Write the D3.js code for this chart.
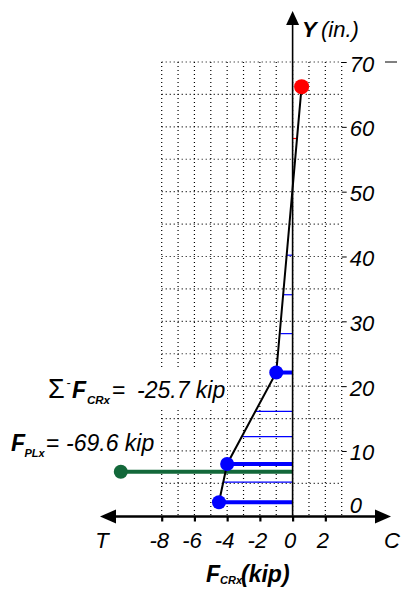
<!DOCTYPE html>
<html><head><meta charset="utf-8">
<script src="https://cdn.jsdelivr.net/npm/d3@7"></script>
<style>
html,body{margin:0;padding:0;background:#fff;}
svg{display:block;font-family:"Liberation Sans",Arial,Helvetica,sans-serif;}
</style></head>
<body>
<svg id="c" width="405" height="594"></svg>
<script>
// ---- data ----
const xTicks = [-8, -6, -4, -2, 0, 2];
const yTicks = [0, 10, 20, 30, 40, 50, 60, 70];
const gridX = [-8, -7, -6, -5, -4, -3, -2, -1, 0, 1, 2, 3];
const gridY = [5, 10, 15, 20, 25, 30, 35, 40, 45, 50, 55, 60, 65, 70];
// force profile (kip) vs height (in.)
const profileX = [0.55, -1.0, -4.0, -4.5];
const profileY = [66.2, 22.1, 8.0, 2.1];
// reinforcement row forces (thick bars + dots)
const rebarX = [-1.0, -4.0, -4.5];
const rebarY = [22.1, 8.0, 2.1];
// thin strip lines
const stripX = [0.3, -0.35, -0.55, -0.75, -2.3, -3.05, -4.2];
const stripY = [58.2, 40.2, 34.1, 28.1, 16.1, 12.2, 5.2];
// top point
const topX = [0.55];
const topY = [66.2];
// plate force
const plateX = [-10.5];
const plateY = [6.8];
const sumLabel = "-25.7 kip";
const plateLabel = "-69.6 kip";

// ---- drawing ----
const svg = d3.select("#c");
const x = d3.scaleLinear().domain([-8, 3]).range([161.7, 341.7]);
const y = d3.scaleLinear().domain([0, 70]).range([515.8, 62]);
const x0 = x(0);

// grid
const grid = svg.append("g").attr("stroke", "#000").attr("stroke-width", 1.2).attr("stroke-dasharray", "1,3");
grid.selectAll("line.h").data(gridY).join("line").attr("class","h")
  .attr("x1", x(-8)).attr("x2", x(3)).attr("y1", d => y(d)).attr("y2", d => y(d));
grid.selectAll("line.v").data(gridX).join("line").attr("class","v")
  .attr("x1", d => x(d)).attr("x2", d => x(d)).attr("y1", y(70)).attr("y2", y(0));

// right y axis ticks + labels
const yAx = svg.append("g").attr("transform", `translate(${x(3)},0)`)
  .call(d3.axisRight(y).tickValues(yTicks).tickSize(5).tickFormat(d3.format("d")));
yAx.select(".domain").remove();
yAx.selectAll(".tick line").attr("stroke", "#000").attr("stroke-width", 1);
yAx.selectAll(".tick text").attr("x", 8).attr("dy", 0)
  .attr("y", d => d === 0 ? -3 : 9)
  .attr("fill", "#000").attr("font-size", 22).attr("font-style", "italic")
  .attr("font-family", "Liberation Sans, Arial, sans-serif");
yAx.selectAll(".tick").filter(d => d === 0).select("line").remove();

// stray dash at right of 70
svg.append("line").attr("x1", 385).attr("x2", 397).attr("y1", y(70)).attr("y2", y(70))
  .attr("stroke", "#000").attr("stroke-width", 1);

// thin strip lines
svg.append("g").selectAll("line").data(stripX.map((v, i) => [v, stripY[i]])).join("line")
  .attr("x1", x0).attr("x2", d => x(d[0])).attr("y1", d => y(d[1])).attr("y2", d => y(d[1]))
  .attr("stroke", d => d[0] > 0 ? "#ff0000" : "#0000ff").attr("stroke-width", 1.2);

// plate bar
svg.append("g").selectAll("line").data(plateX.map((v, i) => [v, plateY[i]])).join("line")
  .attr("x1", x0).attr("x2", d => x(d[0])).attr("y1", d => y(d[1])).attr("y2", d => y(d[1]))
  .attr("stroke", "#13683a").attr("stroke-width", 4);

// rebar bars
svg.append("g").selectAll("line").data(rebarX.map((v, i) => [v, rebarY[i]])).join("line")
  .attr("x1", x0).attr("x2", d => x(d[0])).attr("y1", d => y(d[1])).attr("y2", d => y(d[1]))
  .attr("stroke", "#0000ff").attr("stroke-width", 4);

// y axis (vertical) with arrow
svg.append("line").attr("x1", x0).attr("x2", x0).attr("y1", 22).attr("y2", y(0))
  .attr("stroke", "#000").attr("stroke-width", 1.6);
svg.append("path").attr("d", `M${x0},11 L${x0 - 6.5},25 L${x0 + 6.5},25 Z`).attr("fill", "#000");

// profile line
svg.append("path").datum(profileX.map((v, i) => [v, profileY[i]]))
  .attr("d", d3.line().x(d => x(d[0])).y(d => y(d[1])))
  .attr("fill", "none").attr("stroke", "#000").attr("stroke-width", 2);

// dots
svg.append("g").selectAll("circle").data(rebarX.map((v, i) => [v, rebarY[i]])).join("circle")
  .attr("cx", d => x(d[0])).attr("cy", d => y(d[1])).attr("r", 7).attr("fill", "#0000ff");
svg.append("g").selectAll("circle").data(topX.map((v, i) => [v, topY[i]])).join("circle")
  .attr("cx", d => x(d[0])).attr("cy", d => y(d[1])).attr("r", 7.5).attr("fill", "#ff0000");
svg.append("g").selectAll("circle").data(plateX.map((v, i) => [v, plateY[i]])).join("circle")
  .attr("cx", d => x(d[0])).attr("cy", d => y(d[1])).attr("r", 7).attr("fill", "#13683a");

// x axis with arrows
const axY = 516.5;
svg.append("line").attr("x1", 110).attr("x2", 380).attr("y1", axY).attr("y2", axY)
  .attr("stroke", "#000").attr("stroke-width", 2.6);
svg.append("path").attr("d", `M100,${axY} L116,${axY - 7} L116,${axY + 7} Z`).attr("fill", "#000");
svg.append("path").attr("d", `M391,${axY} L375,${axY - 7} L375,${axY + 7} Z`).attr("fill", "#000");
const xAx = svg.append("g").attr("transform", `translate(0,${axY})`)
  .call(d3.axisBottom(x).tickValues(xTicks).tickSize(5).tickFormat(d3.format("d")));
xAx.select(".domain").remove();
xAx.selectAll(".tick line").attr("stroke", "#000").attr("stroke-width", 2.2);
xAx.selectAll(".tick text").attr("y", 31.5).attr("dy", 0).attr("x", -3)
  .attr("fill", "#000").attr("font-size", 22).attr("font-style", "italic")
  .attr("font-family", "Liberation Sans, Arial, sans-serif")
  .text(d => d < 0 ? "-" + Math.abs(d) : d);

svg.append("text").attr("x", 102).attr("y", 548).attr("text-anchor", "middle")
  .attr("font-size", 22).attr("font-style", "italic").text("T");
svg.append("text").attr("x", 392).attr("y", 548).attr("text-anchor", "middle")
  .attr("font-size", 22).attr("font-style", "italic").text("C");

// x title
const xt = svg.append("text").attr("y", 582).attr("font-weight", "bold").attr("font-style", "italic");
xt.append("tspan").attr("x", 206).attr("font-size", 23).text("F");
xt.append("tspan").attr("x", 220).attr("dy", 2).attr("font-size", 11).text("CRx");
xt.append("tspan").attr("x", 241).attr("dy", -2).attr("font-size", 23).text("(kip)");

// y title
const yt = svg.append("text").attr("y", 37).attr("font-style", "italic").attr("font-size", 22);
yt.append("tspan").attr("x", 302).attr("font-weight", "bold").text("Y");
yt.append("tspan").attr("x", 321).text("(in.)");

// sum label with white background
svg.append("rect").attr("x", 44).attr("y", 368).attr("width", 183).attr("height", 42).attr("fill", "#fff");
const s = svg.append("text").attr("y", 398).attr("font-size", 23);
s.append("tspan").attr("x", 48).attr("font-size", 27).text("Σ");
s.append("tspan").attr("x", 66.5).attr("dy", -11).attr("font-size", 13).text("-");
s.append("tspan").attr("x", 72).attr("dy", 11).attr("font-weight", "bold").attr("font-style", "italic").text("F");
s.append("tspan").attr("x", 87).attr("dy", 6).attr("font-size", 11.5).attr("font-weight", "bold").attr("font-style", "italic").text("CRx");
s.append("tspan").attr("x", 112).attr("dy", -6).text("=");
s.append("tspan").attr("x", 137).attr("font-style", "italic").text(sumLabel);

const p = svg.append("text").attr("y", 451).attr("font-size", 23);
p.append("tspan").attr("x", 11).attr("font-weight", "bold").attr("font-style", "italic").text("F");
p.append("tspan").attr("x", 24.5).attr("dy", 6).attr("font-size", 11).attr("font-weight", "bold").attr("font-style", "italic").text("PLx");
p.append("tspan").attr("x", 46).attr("dy", -6).text("=");
p.append("tspan").attr("x", 66).attr("font-style", "italic").text(plateLabel);
</script>
</body></html>
